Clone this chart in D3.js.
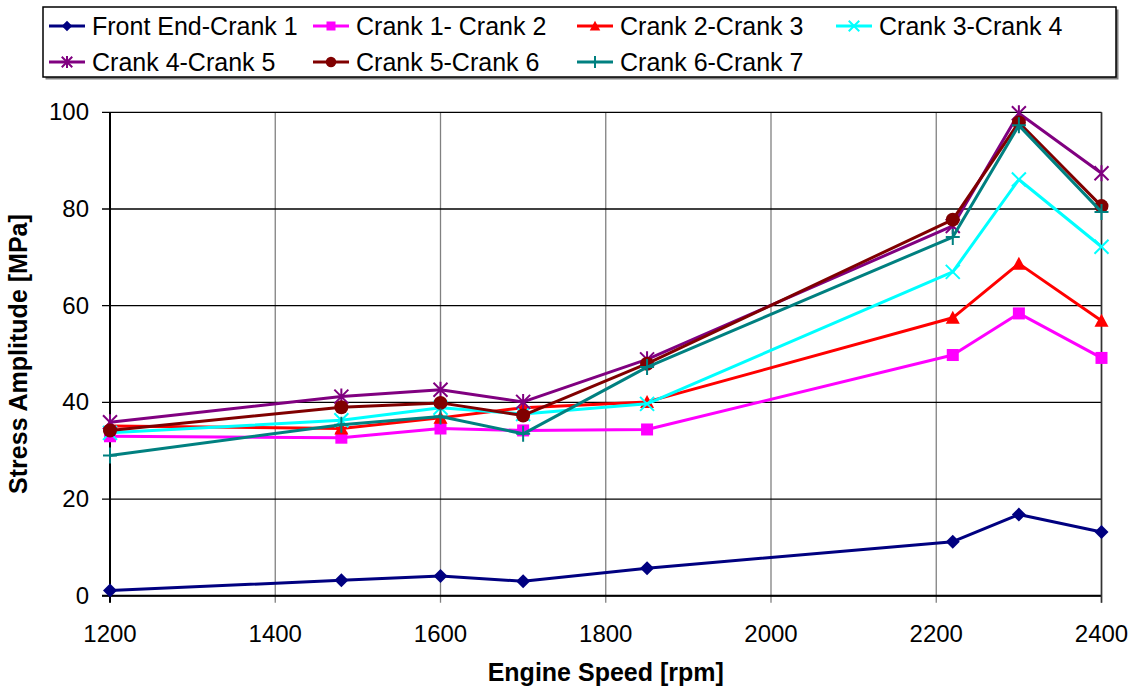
<!DOCTYPE html>
<html>
<head>
<meta charset="utf-8">
<script src="https://cdn.jsdelivr.net/npm/d3@7"></script>
<style>
  body { margin: 0; background: #fff; }
  svg { font-family: Arial, "Liberation Sans", sans-serif; }
</style>
</head>
<body>
<div id="chart"></div>
<script>
// Engine speeds and stress amplitude per crank section
const speeds = [1200, 1480, 1600, 1700, 1850, 2220, 2300, 2400];
const frontCrank1 = [1.1, 3.2, 4.1, 3.0, 5.7, 11.2, 16.8, 13.2];
const crank1Crank2 = [33.0, 32.7, 34.6, 34.2, 34.4, 49.8, 58.4, 49.2];
const crank2Crank3 = [35.1, 34.6, 36.8, 38.9, 40.1, 57.5, 68.7, 56.9];
const crank3Crank4 = [33.7, 36.3, 38.9, 37.6, 39.7, 67.0, 86.1, 72.2];
const crank4Crank5 = [35.9, 41.2, 42.6, 40.1, 48.9, 76.5, 99.8, 87.4];
const crank5Crank6 = [34.2, 39.0, 39.9, 37.3, 48.0, 77.8, 97.9, 80.6];
const crank6Crank7 = [29.0, 35.4, 37.1, 33.5, 47.3, 74.2, 97.3, 79.4];
const xTicks = [1200, 1400, 1600, 1800, 2000, 2200, 2400];
const yTicks = [0, 20, 40, 60, 80, 100];

const series = [
  { name: "Front End-Crank 1", values: frontCrank1, color: "#000080", marker: "diamond" },
  { name: "Crank 1- Crank 2", values: crank1Crank2, color: "#ff00ff", marker: "square" },
  { name: "Crank 2-Crank 3", values: crank2Crank3, color: "#ff0000", marker: "triangle" },
  { name: "Crank 3-Crank 4", values: crank3Crank4, color: "#00ffff", marker: "x" },
  { name: "Crank 4-Crank 5", values: crank4Crank5, color: "#800080", marker: "star" },
  { name: "Crank 5-Crank 6", values: crank5Crank6, color: "#800000", marker: "circle" },
  { name: "Crank 6-Crank 7", values: crank6Crank7, color: "#008080", marker: "plus" }
];

const W = 1140, H = 693;
const plot = { left: 110, right: 1101.5, top: 112.3, bottom: 595.8 };

const svg = d3.select("#chart").append("svg")
  .attr("width", W).attr("height", H);

const x = d3.scaleLinear().domain([1200, 2400]).range([plot.left, plot.right]);
const y = d3.scaleLinear().domain([0, 100]).range([plot.bottom, plot.top]);

// grid
svg.append("g").selectAll("line").data(xTicks).enter().append("line")
  .attr("x1", d => x(d)).attr("x2", d => x(d))
  .attr("y1", plot.top).attr("y2", plot.bottom + 7)
  .attr("stroke", "#808080").attr("stroke-width", 1.3);
svg.append("g").selectAll("line").data(yTicks).enter().append("line")
  .attr("x1", plot.left - 8).attr("x2", plot.right)
  .attr("y1", d => y(d)).attr("y2", d => y(d))
  .attr("stroke", "#000").attr("stroke-width", 1.3);

svg.append("line").attr("x1", plot.left).attr("x2", plot.left)
  .attr("y1", plot.top).attr("y2", plot.bottom + 7)
  .attr("stroke", "#000").attr("stroke-width", 2);
svg.append("line").attr("x1", plot.left - 8).attr("x2", plot.right)
  .attr("y1", plot.bottom).attr("y2", plot.bottom)
  .attr("stroke", "#000").attr("stroke-width", 2);
svg.append("line").attr("x1", plot.right).attr("x2", plot.right)
  .attr("y1", plot.top).attr("y2", plot.bottom + 7)
  .attr("stroke", "#333").attr("stroke-width", 1.6);

// tick labels
svg.append("g").selectAll("text").data(xTicks).enter().append("text")
  .attr("x", d => x(d)).attr("y", 642)
  .attr("text-anchor", "middle").attr("font-size", 24)
  .text(d => d);
svg.append("g").selectAll("text").data(yTicks).enter().append("text")
  .attr("x", 89).attr("y", d => y(d) + 8)
  .attr("text-anchor", "end").attr("font-size", 24)
  .text(d => d);

// axis titles
svg.append("text").attr("x", (plot.left + plot.right) / 2).attr("y", 681)
  .attr("text-anchor", "middle").attr("font-size", 25).attr("font-weight", "bold")
  .text("Engine Speed [rpm]");
svg.append("text")
  .attr("transform", `translate(27,${(plot.top + plot.bottom) / 2}) rotate(-90)`)
  .attr("text-anchor", "middle").attr("font-size", 25).attr("font-weight", "bold")
  .text("Stress Amplitude [MPa]");

// marker shapes
function drawMarker(g, type, color, k) {
  const p = v => v * k;
  if (type === "diamond") {
    g.append("path").attr("d", `M0,${p(-7)}L${p(7)},0L0,${p(7)}L${p(-7)},0Z`).attr("fill", color);
  } else if (type === "square") {
    g.append("rect").attr("x", p(-6)).attr("y", p(-6)).attr("width", p(12)).attr("height", p(12)).attr("fill", color);
  } else if (type === "triangle") {
    g.append("path").attr("d", `M0,${p(-7)}L${p(7)},${p(6)}L${p(-7)},${p(6)}Z`).attr("fill", color);
  } else if (type === "circle") {
    g.append("circle").attr("r", p(7)).attr("fill", color);
  } else if (type === "x") {
    g.append("path").attr("d", `M${p(-7)},${p(-7)}L${p(7)},${p(7)}M${p(-7)},${p(7)}L${p(7)},${p(-7)}`)
      .attr("stroke", color).attr("stroke-width", 2);
  } else if (type === "star") {
    g.append("path").attr("d", `M${p(-7)},${p(-7)}L${p(7)},${p(7)}M${p(-7)},${p(7)}L${p(7)},${p(-7)}M0,${p(-8)}L0,${p(8)}`)
      .attr("stroke", color).attr("stroke-width", 2);
  } else if (type === "plus") {
    g.append("path").attr("d", `M${p(-7)},0L${p(7)},0M0,${p(-8)}L0,${p(8)}`)
      .attr("stroke", color).attr("stroke-width", 2);
  }
}

const line = d3.line().x(d => x(d[0])).y(d => y(d[1]));

series.forEach(s => {
  const pts = speeds.map((v, i) => [v, s.values[i]]);
  const g = svg.append("g");
  g.append("path").datum(pts)
    .attr("fill", "none").attr("stroke", s.color).attr("stroke-width", 3)
    .attr("stroke-linejoin", "round")
    .attr("d", line);
  pts.forEach(p => {
    const m = g.append("g").attr("transform", `translate(${x(p[0])},${y(p[1])})`);
    drawMarker(m, s.marker, s.color, 1);
  });
});

// legend
const legend = svg.append("g");
legend.append("rect").attr("x", 45.5).attr("y", 9.5).attr("width", 1073).attr("height", 70)
  .attr("fill", "#808080");
legend.append("rect").attr("x", 43).attr("y", 7).attr("width", 1073).attr("height", 70)
  .attr("fill", "#fff").attr("stroke", "#000").attr("stroke-width", 1.5);

const colX = [49, 313, 577, 836];
const rowY = [26, 62];
series.forEach((s, i) => {
  const cx = colX[i % 4], cy = rowY[Math.floor(i / 4)];
  const g = legend.append("g");
  g.append("line").attr("x1", cx).attr("x2", cx + 36).attr("y1", cy).attr("y2", cy)
    .attr("stroke", s.color).attr("stroke-width", 3);
  drawMarker(g.append("g").attr("transform", `translate(${cx + 18},${cy})`), s.marker, s.color, 0.75);
  g.append("text").attr("x", cx + 43).attr("y", cy + 9)
    .attr("font-size", 25).text(s.name);
});
</script>
</body>
</html>
